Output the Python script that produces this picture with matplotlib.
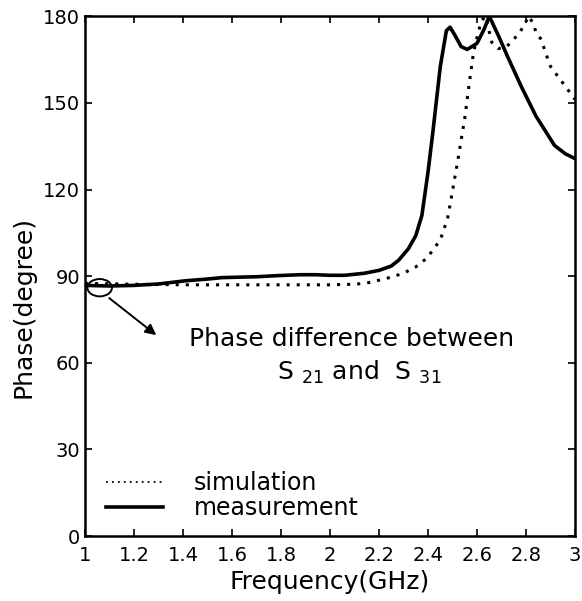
import matplotlib
matplotlib.use("Agg")
from matplotlib import pyplot as plt
from matplotlib.patches import Ellipse

# measured phase difference (solid)
meas_freq = [1.0, 1.1, 1.2, 1.3, 1.41, 1.5, 1.56, 1.7, 1.79, 1.88, 1.94, 2.0, 2.06, 2.14, 2.2,
             2.25, 2.28, 2.32, 2.35, 2.375, 2.40, 2.42, 2.45, 2.475, 2.49, 2.51, 2.535, 2.56,
             2.60, 2.63, 2.65, 2.69, 2.725, 2.78, 2.84, 2.916, 2.96, 3.0]
meas_phase = [86.8, 86.6, 86.8, 87.3, 88.4, 89.0, 89.5, 89.8, 90.2, 90.5, 90.5, 90.3, 90.3, 91.0, 92.0,
              93.5, 95.5, 99.5, 104.0, 111.0, 126.0, 140.0, 162.5, 175.0, 176.2, 173.4, 169.5, 168.5,
              170.6, 175.7, 180.0, 172.8, 166.0, 155.8, 145.5, 135.3, 132.4, 130.7]

# simulated phase difference (dotted)
sim_freq = [1.0, 1.2, 1.4, 1.6, 1.8, 2.0, 2.1, 2.15, 2.23, 2.30, 2.35, 2.395, 2.45, 2.48, 2.497,
            2.524, 2.55, 2.57, 2.585, 2.605, 2.62, 2.635, 2.66, 2.687, 2.72, 2.747, 2.776, 2.796,
            2.81, 2.83, 2.84, 2.864, 2.877, 2.90, 2.96, 3.0]
sim_phase = [87.5, 87.2, 87.0, 87.0, 87.0, 87.0, 87.2, 87.6, 89.2, 91.0, 93.2, 96.2, 102.5, 110.0, 118.0,
             131.3, 144.7, 157.8, 167.0, 174.6, 178.6, 180.0, 171.0, 168.8, 169.4, 171.7, 174.6, 177.5,
             180.0, 177.5, 174.6, 171.7, 168.0, 162.6, 155.8, 151.2]

x_ticks = [1, 1.2, 1.4, 1.6, 1.8, 2, 2.2, 2.4, 2.6, 2.8, 3]
x_tick_labels = ['1', '1.2', '1.4', '1.6', '1.8', '2', '2.2', '2.4', '2.6', '2.8', '3']
y_ticks = [0, 30, 60, 90, 120, 150, 180]

plt.rcParams['font.family'] = ['DejaVu Sans']

fig = plt.figure(figsize=(5.82, 6.01), dpi=100)
ax = fig.add_axes([0.146, 0.108, 0.842, 0.865])

ax.plot(sim_freq, sim_phase, color='black', linestyle=(0, (1, 2.3)), linewidth=2.2,
        label='simulation')
ax.plot(meas_freq, meas_phase, color='black', linestyle='-', linewidth=2.6,
        label='measurement')

# bracket around the curves near 1 GHz and arrow to the note
ax.add_patch(Ellipse((1.06, 86.0), 0.1, 6, fill=False, edgecolor='black', linewidth=1.4))
ax.annotate('', xy=(1.30, 69), xytext=(1.09, 83.0),
            arrowprops=dict(arrowstyle='-|>', color='black', lw=1.4, mutation_scale=16))
ax.text(2.09, 68.2, 'Phase difference between', ha='center', va='center', fontsize=18)
ax.text(2.12, 56.8, r'S $_{21}$ and  S $_{31}$', ha='center', va='center', fontsize=18)

ax.set_xlim(1, 3)
ax.set_ylim(0, 180)
ax.set_xticks(x_ticks, labels=x_tick_labels)
ax.set_yticks(y_ticks)
ax.tick_params(direction='in', top=True, right=True, length=5, width=1.2, labelsize=14)
ax.tick_params(axis='x', pad=7)
for spine in ax.spines.values():
    spine.set_linewidth(1.8)

ax.set_xlabel('Frequency(GHz)', fontsize=18, labelpad=4)
ax.set_ylabel('Phase(degree)', fontsize=18)
ax.yaxis.set_label_coords(-0.10, 0.44)

leg = ax.legend(loc='lower left', bbox_to_anchor=(0.0, -0.01), frameon=False, fontsize=17,
                handlelength=2.4, handletextpad=1.3, labelspacing=0.05)
leg.get_lines()[0].set_linewidth(1.3)

plt.savefig('out.png', dpi=100)
